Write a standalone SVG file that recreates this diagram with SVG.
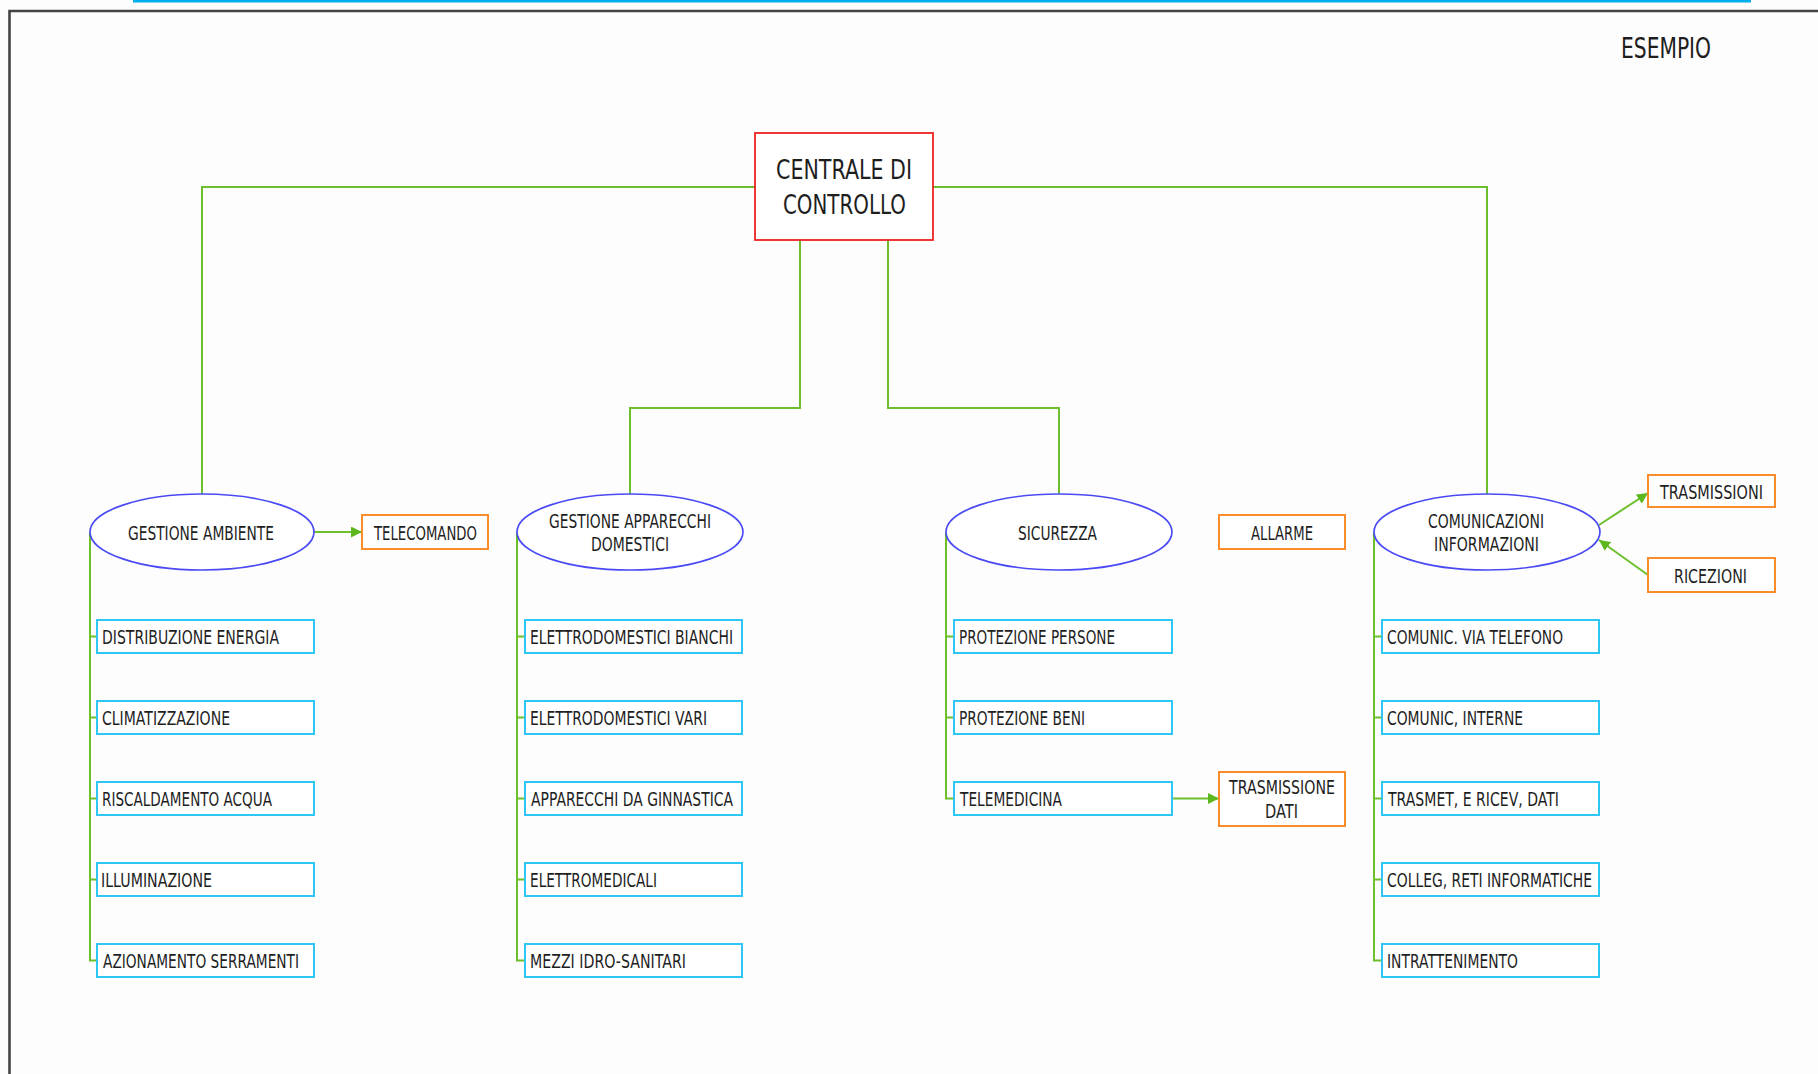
<svg xmlns="http://www.w3.org/2000/svg" width="1818" height="1074" viewBox="0 0 1818 1074">
<style>
text{font-family:"DejaVu Sans","Liberation Sans",sans-serif;fill:#1e1e1e;font-size:19px}
.t{font-size:27px}
.e{font-size:29px}
.conn{fill:none;stroke:#6dbf2c;stroke-width:2}
.ell{fill:#fff;stroke:#4a4af5;stroke-width:1.6}
.leaf{fill:#fff;stroke:#2ec6f5;stroke-width:2}
.ext{fill:#fff;stroke:#fb8c2a;stroke-width:2}
.main{fill:#fff;stroke:#ee2222;stroke-width:1.8}
</style>
<defs>
<marker id="ah" viewBox="0 0 10 10" refX="10" refY="5" markerWidth="11" markerHeight="11" markerUnits="userSpaceOnUse" orient="auto">
<path d="M0,0 L10,5 L0,10 z" fill="#5cb81e"/>
</marker>
</defs>
<rect x="0" y="0" width="1818" height="1074" fill="#fdfdfd"/>
<g id="frame">
<rect x="133" y="0" width="1618" height="2.5" fill="#00aeef"/>
<path d="M9.5 1074 V11 H1818" fill="none" stroke="#444" stroke-width="2.6"/>
</g>
<text class="e" x="1621" y="58" textLength="90" lengthAdjust="spacingAndGlyphs">ESEMPIO</text>
<g id="connectors">
<path class="conn" d="M755 187 H202 V494"/>
<path class="conn" d="M933 187 H1487 V494"/>
<path class="conn" d="M800 240 V408 H630 V494"/>
<path class="conn" d="M888 240 V408 H1059 V494"/>
<path class="conn" d="M90 532 V960.5 H97 M90 636.5 H97 M90 717.5 H97 M90 798.5 H97 M90 879.5 H97"/>
<path class="conn" d="M517 532 V960.5 H525 M517 636.5 H525 M517 717.5 H525 M517 798.5 H525 M517 879.5 H525"/>
<path class="conn" d="M946 532 V798.5 H954 M946 636.5 H954 M946 717.5 H954"/>
<path class="conn" d="M1374 532 V960.5 H1382 M1374 636.5 H1382 M1374 717.5 H1382 M1374 798.5 H1382 M1374 879.5 H1382"/>
<path class="conn" d="M314 532 H362" marker-end="url(#ah)"/>
<path class="conn" d="M1172 798.5 H1219" marker-end="url(#ah)"/>
<path class="conn" d="M1599 525 L1648 493" marker-end="url(#ah)"/>
<path class="conn" d="M1648 575 L1599 540" marker-end="url(#ah)"/>
</g>
<g id="centrale">
<rect class="main" x="755" y="133" width="178" height="107"/>
<text class="t" x="776" y="179" textLength="136" lengthAdjust="spacingAndGlyphs">CENTRALE DI</text>
<text class="t" x="783" y="214" textLength="123" lengthAdjust="spacingAndGlyphs">CONTROLLO</text>
</g>
<g id="gestione-ambiente">
<ellipse class="ell" cx="202" cy="532" rx="112" ry="38"/>
<text x="128" y="540" textLength="146" lengthAdjust="spacingAndGlyphs">GESTIONE AMBIENTE</text>
</g>
<g id="telecomando">
<rect class="ext" x="362" y="515" width="126" height="34"/>
<text x="374" y="540" textLength="103" lengthAdjust="spacingAndGlyphs">TELECOMANDO</text>
</g>
<g id="distribuzione-energia"><rect class="leaf" x="97" y="620" width="217" height="33"/><text x="102" y="643.5" textLength="177" lengthAdjust="spacingAndGlyphs">DISTRIBUZIONE ENERGIA</text></g>
<g id="climatizzazione"><rect class="leaf" x="97" y="701" width="217" height="33"/><text x="102" y="724.5" textLength="128" lengthAdjust="spacingAndGlyphs">CLIMATIZZAZIONE</text></g>
<g id="riscaldamento-acqua"><rect class="leaf" x="97" y="782" width="217" height="33"/><text x="102" y="805.5" textLength="170" lengthAdjust="spacingAndGlyphs">RISCALDAMENTO ACQUA</text></g>
<g id="illuminazione"><rect class="leaf" x="97" y="863" width="217" height="33"/><text x="101" y="886.5" textLength="111" lengthAdjust="spacingAndGlyphs">ILLUMINAZIONE</text></g>
<g id="azionamento-serramenti"><rect class="leaf" x="97" y="944" width="217" height="33"/><text x="103" y="967.5" textLength="196" lengthAdjust="spacingAndGlyphs">AZIONAMENTO SERRAMENTI</text></g>
<g id="gestione-apparecchi">
<ellipse class="ell" cx="630" cy="532" rx="113" ry="38"/>
<text x="549" y="528" textLength="162" lengthAdjust="spacingAndGlyphs">GESTIONE APPARECCHI</text>
<text x="591" y="551" textLength="78" lengthAdjust="spacingAndGlyphs">DOMESTICI</text>
</g>
<g id="elettrodomestici-bianchi"><rect class="leaf" x="525" y="620" width="217" height="33"/><text x="530" y="643.5" textLength="203" lengthAdjust="spacingAndGlyphs">ELETTRODOMESTICI BIANCHI</text></g>
<g id="elettrodomestici-vari"><rect class="leaf" x="525" y="701" width="217" height="33"/><text x="530" y="724.5" textLength="177" lengthAdjust="spacingAndGlyphs">ELETTRODOMESTICI VARI</text></g>
<g id="apparecchi-ginnastica"><rect class="leaf" x="525" y="782" width="217" height="33"/><text x="531" y="805.5" textLength="202" lengthAdjust="spacingAndGlyphs">APPARECCHI DA GINNASTICA</text></g>
<g id="elettromedicali"><rect class="leaf" x="525" y="863" width="217" height="33"/><text x="530" y="886.5" textLength="127" lengthAdjust="spacingAndGlyphs">ELETTROMEDICALI</text></g>
<g id="mezzi-idro-sanitari"><rect class="leaf" x="525" y="944" width="217" height="33"/><text x="530" y="967.5" textLength="156" lengthAdjust="spacingAndGlyphs">MEZZI IDRO-SANITARI</text></g>
<g id="sicurezza">
<ellipse class="ell" cx="1059" cy="532" rx="113" ry="38"/>
<text x="1018" y="540" textLength="79" lengthAdjust="spacingAndGlyphs">SICUREZZA</text>
</g>
<g id="allarme">
<rect class="ext" x="1219" y="515" width="126" height="34"/>
<text x="1251" y="540" textLength="62" lengthAdjust="spacingAndGlyphs">ALLARME</text>
</g>
<g id="protezione-persone"><rect class="leaf" x="954" y="620" width="218" height="33"/><text x="959" y="643.5" textLength="156" lengthAdjust="spacingAndGlyphs">PROTEZIONE PERSONE</text></g>
<g id="protezione-beni"><rect class="leaf" x="954" y="701" width="218" height="33"/><text x="959" y="724.5" textLength="126" lengthAdjust="spacingAndGlyphs">PROTEZIONE BENI</text></g>
<g id="telemedicina"><rect class="leaf" x="954" y="782" width="218" height="33"/><text x="960" y="805.5" textLength="102" lengthAdjust="spacingAndGlyphs">TELEMEDICINA</text></g>
<g id="trasmissione-dati">
<rect class="ext" x="1219" y="772" width="126" height="54"/>
<text x="1229" y="794" textLength="106" lengthAdjust="spacingAndGlyphs">TRASMISSIONE</text>
<text x="1265" y="818" textLength="33" lengthAdjust="spacingAndGlyphs">DATI</text>
</g>
<g id="comunicazioni">
<ellipse class="ell" cx="1487" cy="532" rx="113" ry="38"/>
<text x="1428" y="528" textLength="116" lengthAdjust="spacingAndGlyphs">COMUNICAZIONI</text>
<text x="1434" y="551" textLength="105" lengthAdjust="spacingAndGlyphs">INFORMAZIONI</text>
</g>
<g id="trasmissioni">
<rect class="ext" x="1648" y="475" width="127" height="32"/>
<text x="1660" y="498.5" textLength="103" lengthAdjust="spacingAndGlyphs">TRASMISSIONI</text>
</g>
<g id="ricezioni">
<rect class="ext" x="1648" y="558" width="127" height="34"/>
<text x="1674" y="583" textLength="73" lengthAdjust="spacingAndGlyphs">RICEZIONI</text>
</g>
<g id="comunic-telefono"><rect class="leaf" x="1382" y="620" width="217" height="33"/><text x="1387" y="643.5" textLength="176" lengthAdjust="spacingAndGlyphs">COMUNIC. VIA TELEFONO</text></g>
<g id="comunic-interne"><rect class="leaf" x="1382" y="701" width="217" height="33"/><text x="1387" y="724.5" textLength="136" lengthAdjust="spacingAndGlyphs">COMUNIC, INTERNE</text></g>
<g id="trasmet-ricev"><rect class="leaf" x="1382" y="782" width="217" height="33"/><text x="1388" y="805.5" textLength="171" lengthAdjust="spacingAndGlyphs">TRASMET, E RICEV, DATI</text></g>
<g id="colleg-reti"><rect class="leaf" x="1382" y="863" width="217" height="33"/><text x="1387" y="886.5" textLength="205" lengthAdjust="spacingAndGlyphs">COLLEG, RETI INFORMATICHE</text></g>
<g id="intrattenimento"><rect class="leaf" x="1382" y="944" width="217" height="33"/><text x="1387" y="967.5" textLength="131" lengthAdjust="spacingAndGlyphs">INTRATTENIMENTO</text></g>
</svg>
